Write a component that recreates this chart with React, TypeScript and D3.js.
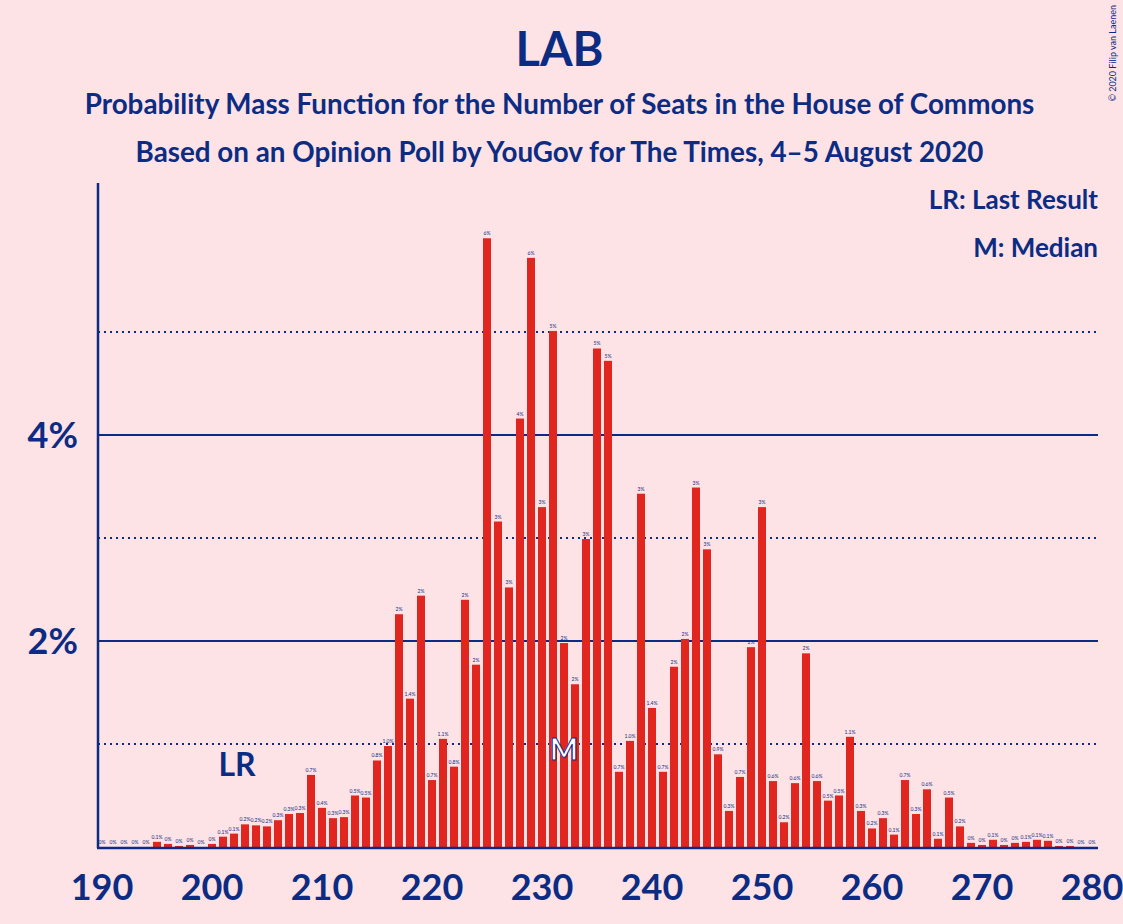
import * as d3 from "d3";

const seats = d3.range(190, 281);
const probs = [
  0, 0, 0, 0, 0, 0.05, 0.03, 0.01, 0.02, 0, 0.03, 0.1, 0.13, 0.22, 0.21, 0.2, 0.26, 0.32, 0.33, 0.7,
  0.38, 0.28, 0.29, 0.5, 0.48, 0.84, 0.98, 2.26, 1.44, 2.44, 0.65, 1.05, 0.78, 2.4, 1.77, 5.91, 3.16, 2.52, 4.16, 5.72,
  3.3, 5.01, 1.98, 1.58, 2.99, 4.84, 4.72, 0.73, 1.03, 3.43, 1.35, 0.73, 1.75, 2.02, 3.49, 2.89, 0.9, 0.35, 0.68, 1.94,
  3.3, 0.64, 0.24, 0.62, 1.88, 0.64, 0.45, 0.5, 1.07, 0.35, 0.18, 0.28, 0.12, 0.65, 0.32, 0.56, 0.08, 0.48, 0.2, 0.04,
  0.02, 0.07, 0.02, 0.04, 0.05, 0.07, 0.06, 0.01, 0.01, 0, 0,
];
const xTicks = [190, 200, 210, 220, 230, 240, 250, 260, 270, 280];
const solidTicks = [2, 4];
const dottedTicks = [1, 3, 5];
const lastResult = 202;
const median = 232;

const NAVY = "#0C2C84";
const RED = "#E0261F";
const BG = "#FDE3E6";

function fmt(v: number) {
  if (v < 0.05) return "0%";
  if (v < 1.5) return v.toFixed(1) + "%";
  return Math.round(v) + "%";
}

export default function App() {
  const W = 1123, H = 924;
  const x = d3.scaleLinear().domain([190, 280]).range([102, 1092]);
  const y = d3.scaleLinear().domain([0, 4]).range([847, 435]);
  const bw = 8;
  const font = "Lato, sans-serif";
  return (
    <svg width={W} height={H} style={{ position: "absolute", left: 0, top: 0, background: BG, fontFamily: font }}>
      <rect width={W} height={H} fill={BG} />
      <text x={W / 2 - 2} y={66} textAnchor="middle" fontSize={47} fontWeight="bold" fill={NAVY}>LAB</text>
      <text x={W / 2 - 2} y={114} textAnchor="middle" fontSize={27.8} fontWeight="bold" fill={NAVY}>Probability Mass Function for the Number of Seats in the House of Commons</text>
      <text x={W / 2 - 2} y={162} textAnchor="middle" fontSize={27.8} fontWeight="bold" fill={NAVY}>Based on an Opinion Poll by YouGov for The Times, 4–5 August 2020</text>
      <text x={1116} y={5} fontSize={9} fill={NAVY} transform="rotate(-90 1116 5)" textAnchor="end">© 2020 Filip van Laenen</text>
      {dottedTicks.map((t) => (
        <line key={"d" + t} x1={98} x2={1098} y1={y(t)} y2={y(t)} stroke={NAVY} strokeWidth={2} strokeDasharray="2,4" />
      ))}
      {solidTicks.map((t) => (
        <g key={"s" + t}>
          <line x1={98} x2={1098} y1={y(t)} y2={y(t)} stroke={NAVY} strokeWidth={2} />
          <text x={78} y={y(t) + 13} textAnchor="end" fontSize={36} fontWeight="bold" fill={NAVY}>{t}%</text>
        </g>
      ))}
      {seats.map((s, i) => (
        <g key={s}>
          <rect x={x(s) - bw / 2} y={y(probs[i])} width={bw} height={847 - y(probs[i])} fill={RED} />
          <text x={x(s)} y={y(probs[i]) - 3} textAnchor="middle" fontSize={5} fill={NAVY}>{fmt(probs[i])}</text>
        </g>
      ))}
      <text x={x(lastResult) + 3} y={776} textAnchor="middle" fontSize={32} fontWeight="bold" fill={NAVY}>LR</text>
      <text x={x(median)} y={760} textAnchor="middle" fontSize={30} fontWeight="bold" fill="white" stroke={NAVY} strokeWidth={1}>M</text>
      <line x1={98} x2={98} y1={183} y2={848} stroke={NAVY} strokeWidth={2.5} />
      <line x1={97} x2={1098} y1={848} y2={848} stroke={NAVY} strokeWidth={2.5} />
      {xTicks.map((t) => (
        <text key={t} x={x(t)} y={900} textAnchor="middle" fontSize={36} fontWeight="bold" fill={NAVY}>{t}</text>
      ))}
      <text x={1098} y={209} textAnchor="end" fontSize={26} fontWeight="bold" fill={NAVY}>LR: Last Result</text>
      <text x={1098} y={257} textAnchor="end" fontSize={26} fontWeight="bold" fill={NAVY}>M: Median</text>
    </svg>
  );
}
